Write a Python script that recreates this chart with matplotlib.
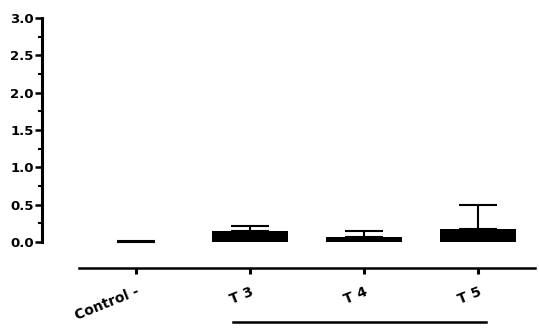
import matplotlib
matplotlib.use('Agg')
import matplotlib.pyplot as plt
from matplotlib.ticker import FixedLocator

# data
groups = ['Control -', 'T 3', 'T 4', 'T 5']
means = [0.0, 0.143, 0.07, 0.18]
upper_err = [0.01, 0.077, 0.08, 0.315]
yticks = [0.0, 0.5, 1.0, 1.5, 2.0, 2.5, 3.0]

plt.rcParams['font.family'] = ['DejaVu Sans']
plt.rcParams['font.weight'] = 'bold'

fig = plt.figure(figsize=(5.39, 3.34), dpi=100)
ax = fig.add_axes([42 / 539, 66 / 334, 496 / 539, 252 / 334])

x = list(range(len(groups)))
ax.bar(x, means, width=0.67, color='black', zorder=2)
ax.errorbar(x, means, yerr=[[0] * len(means), upper_err], fmt='none',
            ecolor='black', elinewidth=1.5, capsize=13.5, capthick=1.5, zorder=1)

ax.set_xlim(-0.825, 3.526)
ax.set_ylim(-0.348, 3.025)

for s in ['top', 'right']:
    ax.spines[s].set_visible(False)
ax.spines['left'].set_bounds(0, 3)
ax.spines['left'].set_linewidth(2.2)
ax.spines['bottom'].set_bounds(-0.5, 3.5)
ax.spines['bottom'].set_linewidth(1.8)

ax.set_yticks(yticks)
ax.set_yticklabels(['%.1f' % v for v in yticks], fontsize=9.5, fontweight='bold')
ax.yaxis.set_minor_locator(FixedLocator([v + 0.25 for v in yticks[:-1]]))
ax.tick_params(axis='y', which='major', length=5, width=1.8, pad=1)
ax.tick_params(axis='y', which='minor', length=3, width=1.5)

ax.set_xticks(x)
ax.set_xticklabels(groups, fontsize=10, fontweight='bold', rotation=22,
                   ha='right', rotation_mode='anchor')
ax.tick_params(axis='x', length=4, width=2.2, pad=8)

# line under the treatment groups
ax.plot([0.85, 3.07], [-1.07, -1.07], color='black', lw=1.8, clip_on=False)

fig.savefig('out.png', dpi=100)
